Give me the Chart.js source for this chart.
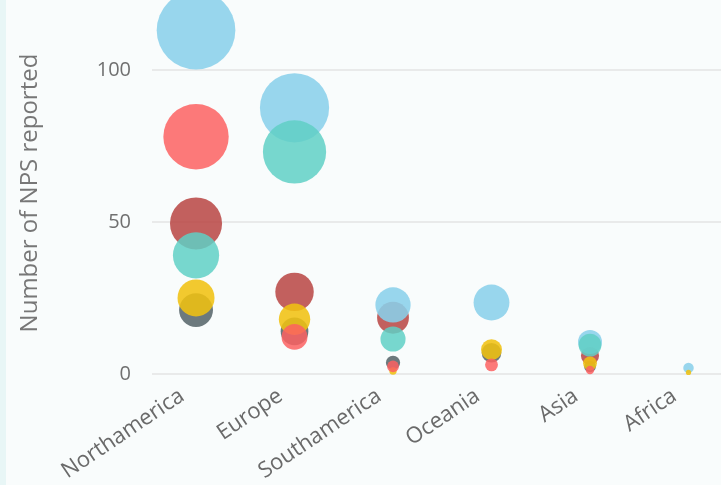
<!DOCTYPE html>
<html>
<head>
<meta charset="utf-8">
<script src="https://cdn.jsdelivr.net/npm/chart.js@4.4.1/dist/chart.umd.min.js"></script>
<style>
  html, body { margin: 0; padding: 0; background: #f9fcfc; overflow: hidden; }
  #strip { position: absolute; left: 0; top: 0; width: 6px; height: 485px; background: #e8f6f6; }
  #wrap { position: absolute; left: 0; top: 0; width: 721px; height: 485px; }
</style>
</head>
<body>
<div id="strip"></div>
<div id="wrap"><canvas id="npsChart" width="721" height="485"></canvas></div>
<script>
// regions on the x axis
const regions = ['Northamerica', 'Europe', 'Southamerica', 'Oceania', 'Asia', 'Africa'];
const yTicks = [0, 50, 100];

// NPS counts per region, one array per bubble colour (null = no bubble)
const salmon    = [78,   12.2, 2.5,  3,    1.3,  null];
const yellow    = [25,   18,   1,    8,    3.5,  0.5];
const teal      = [39,   73,   11.5, null, 9.5,  null];
const lightBlue = [113,  87.5, 22.7, 23.5, 10.5, 2];
const darkRed   = [49.5, 27,   18.5, null, 6,    null];
const slate     = [21,   14,   3.7,  7,    2.5,  null];

// first dataset is drawn on top
const series = [
  { name: 'salmon',    values: salmon,    color: 'rgba(253, 98, 98, 0.85)' },
  { name: 'yellow',    values: yellow,    color: 'rgba(240, 194, 18, 0.88)' },
  { name: 'teal',      values: teal,      color: 'rgba(96, 208, 198, 0.85)' },
  { name: 'lightBlue', values: lightBlue, color: 'rgba(138, 208, 234, 0.88)' },
  { name: 'darkRed',   values: darkRed,   color: 'rgba(184, 68, 66, 0.85)' },
  { name: 'slate',     values: slate,     color: 'rgba(84, 98, 102, 0.85)' }
];

// bubble area proportional to the count
const rOf = v => 3.7 * Math.sqrt(v);

const datasets = series.map(s => ({
  label: s.name,
  data: s.values
    .map((v, i) => v == null ? null : { x: i, y: v, r: rOf(v) })
    .filter(p => p),
  backgroundColor: s.color,
  borderWidth: 0,
  clip: false
}));

new Chart(document.getElementById('npsChart'), {
  type: 'bubble',
  data: { datasets },
  options: {
    responsive: false,
    animation: false,
    events: [],
    layout: { padding: 0, autoPadding: false },
    plugins: { legend: { display: false }, tooltip: { enabled: false } },
    scales: {
      x: {
        type: 'linear',
        min: -0.447,
        max: 5.33,
        grid: { display: false },
        border: { display: false },
        ticks: {
          autoSkip: false,
          minRotation: 34,
          maxRotation: 34,
          padding: 1,
          labelOffset: -14,
          color: '#6a6a6a',
          font: { family: 'Open Sans', size: 22 },
          callback: v => regions[v] ?? ''
        },
        afterBuildTicks: s => { s.ticks = regions.map((_, i) => ({ value: i })); },
        afterFit: s => { s.height = 111; }
      },
      y: {
        min: 0,
        max: 119,
        grid: { color: '#e9eaea', lineWidth: 2, drawTicks: true, tickLength: 21, tickColor: 'rgba(0,0,0,0)' },
        border: { display: false },
        ticks: { padding: 0, color: '#707070', font: { family: 'Open Sans', size: 20 } },
        afterBuildTicks: s => { s.ticks = yTicks.map(v => ({ value: v })); },
        title: {
          display: true,
          text: 'Number of NPS reported',
          color: '#777',
          font: { family: 'Open Sans', size: 24 },
          padding: { top: 16, bottom: 0 }
        },
        afterFit: s => { s.width = 152; }
      }
    }
  }
});
</script>
</body>
</html>
